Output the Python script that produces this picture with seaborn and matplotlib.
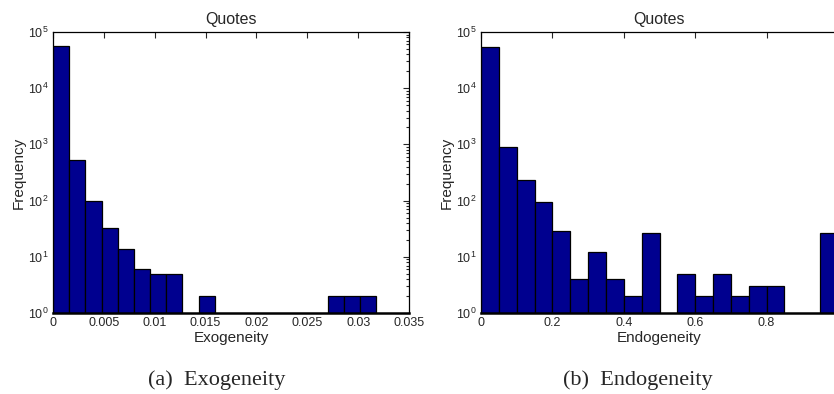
import numpy as np
import pandas as pd
import matplotlib
matplotlib.use("Agg")
import matplotlib.pyplot as plt
import seaborn as sns

# Binned counts (20 bins each)
exo_edges = list(np.linspace(0, 0.0318, 21))
exo_counts = [56000, 530, 100, 32, 14, 6, 5, 5, 0, 2,
              0, 0, 0, 0, 0, 0, 0, 2, 2, 2]

endo_edges = list(np.linspace(0, 1.0, 21))
endo_counts = [55000, 890, 236, 95, 29, 4, 12, 4, 2, 26,
               0, 5, 2, 5, 2, 3, 3, 0, 0, 26]

exo_ticks = [0, 0.005, 0.01, 0.015, 0.02, 0.025, 0.03, 0.035]
exo_ticklabels = ["0", "0.005", "0.01", "0.015", "0.02", "0.025", "0.03", "0.035"]
# the "1" tick sits on the cropped right edge of the figure
endo_ticks = [0, 0.2, 0.4, 0.6, 0.8]
endo_ticklabels = ["0", "0.2", "0.4", "0.6", "0.8"]

sns.set_style("white")
plt.rcParams["font.family"] = ["Liberation Sans", "DejaVu Sans"]
plt.rcParams["mathtext.fontset"] = "custom"
plt.rcParams["mathtext.rm"] = "Liberation Sans"
plt.rcParams["mathtext.it"] = "Liberation Sans:italic"
plt.rcParams["mathtext.bf"] = "Liberation Sans:bold"

bar_color = "#00008F"

fig = plt.figure(figsize=(8.34, 3.94), dpi=100)
ax1 = fig.add_axes([53 / 834, 1 - 313 / 394, 356 / 834, 281 / 394])
ax2 = fig.add_axes([481 / 834, 1 - 313 / 394, 357 / 834, 281 / 394])

panels = [
    (ax1, exo_edges, exo_counts, "Exogeneity", exo_ticks, exo_ticklabels, (0, 0.035), True),
    (ax2, endo_edges, endo_counts, "Endogeneity", endo_ticks, endo_ticklabels, (0, 1.0), False),
]

for ax, edges, counts, name, ticks, ticklabels, xlim, right_ticks in panels:
    centers = [(a + b) / 2 for a, b in zip(edges[:-1], edges[1:])]
    df = pd.DataFrame({"value": centers, "count": counts})
    sns.histplot(data=df, x="value", weights="count", bins=edges, ax=ax,
                 color=bar_color, edgecolor="black", linewidth=0.9, alpha=1)
    ax.set_yscale("log")
    ax.set_ylim(1, 1e5)
    ax.set_xlim(*xlim)
    ax.set_xticks(ticks)
    ax.set_xticklabels(ticklabels)
    ax.set_yticks([1, 10, 100, 1e3, 1e4, 1e5])
    ax.tick_params(which="both", direction="in", top=True, right=right_ticks,
                   labelsize=9, pad=3, width=0.8)
    ax.tick_params(which="major", length=4)
    ax.tick_params(which="minor", length=2)
    for side in ["top", "left", "right"]:
        ax.spines[side].set_linewidth(0.9)
        ax.spines[side].set_color("black")
    ax.spines["bottom"].set_linewidth(1.8)
    ax.spines["bottom"].set_color("black")
    ax.set_title("Quotes", fontsize=11.5, pad=6)
    ax.set_xlabel(name, fontsize=11, labelpad=1)
    ax.set_ylabel("Frequency", fontsize=11, labelpad=2)

# subfigure captions
fig.text(217 / 834, 1 - 380 / 394, "(a)  Exogeneity", ha="center", va="center",
         fontsize=16, family="Liberation Serif")
fig.text(638 / 834, 1 - 380 / 394, "(b)  Endogeneity", ha="center", va="center",
         fontsize=16, family="Liberation Serif")

fig.savefig("out.png", dpi=100)
